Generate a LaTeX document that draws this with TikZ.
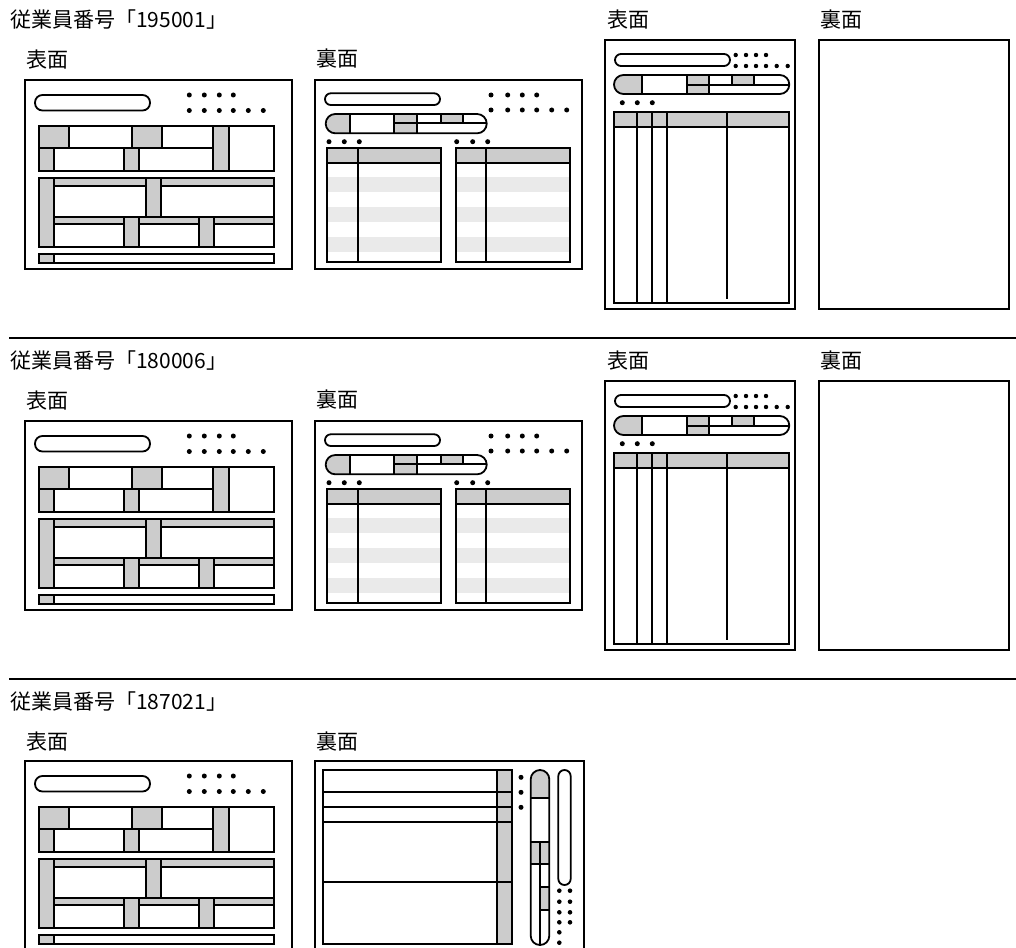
\documentclass[tikz,border=0pt]{standalone}
\usepackage{fontspec}
\setmainfont{Noto Sans CJK JP}
\usepackage{tikz}
\definecolor{mygrey}{RGB}{204,204,204}
\definecolor{mylightgrey}{RGB}{234,234,234}
\tikzset{
  frontform/.pic={
    \draw[outer] (0,0) rectangle (267,189);
    \draw[ink, rounded corners=7.5pt] (10,15) rectangle (125,30.5);
    \foreach \x in {164.3,179.3,194.3,208.3} \fill (\x,15) circle (2.5pt);
    \foreach \x in {164.3,179.3,194.3,208.3,223.3,238.3} \fill (\x,30.5) circle (2.5pt);
    \fill[cell] (14,45.7) rectangle (44.3,68.3) (106.7,45.7) rectangle (137.3,68.3)
      (188.3,45.7) rectangle (204,91) (14,68.3) rectangle (29.3,91) (99.3,68.3) rectangle (114.3,91);
    \draw[ink] (14,45.7) rectangle (249.3,91) (14,68.3) -- (188.3,68.3)
      (44.3,45.7) -- (44.3,68.3) (106.7,45.7) -- (106.7,68.3) (137.3,45.7) -- (137.3,68.3)
      (29.3,68.3) -- (29.3,91) (99.3,68.3) -- (99.3,91) (114.3,68.3) -- (114.3,91)
      (188.3,45.7) -- (188.3,91) (204,45.7) -- (204,91);
    \fill[cell] (14,97.7) rectangle (29.3,167.3) (29.3,97.7) rectangle (249.3,106)
      (120.7,106) rectangle (135.7,136.7) (29.3,136.7) rectangle (249.3,144.3)
      (99.3,144.3) rectangle (114.3,167.3) (174,144.3) rectangle (189,167.3);
    \draw[ink] (14,97.7) rectangle (249.3,167.3) (29.3,97.7) -- (29.3,167.3)
      (29.3,106) -- (120.7,106) (135.7,106) -- (249.3,106)
      (120.7,97.7) -- (120.7,136.7) (135.7,97.7) -- (135.7,136.7)
      (29.3,136.7) -- (249.3,136.7)
      (29.3,144.3) -- (99.3,144.3) (114.3,144.3) -- (174,144.3) (189,144.3) -- (249.3,144.3)
      (99.3,136.7) -- (99.3,167.3) (114.3,136.7) -- (114.3,167.3)
      (174,136.7) -- (174,167.3) (189,136.7) -- (189,167.3);
    \fill[cell] (14,174.3) rectangle (29.3,182.7);
    \draw[ink] (14,174.3) rectangle (249.3,182.7) (29.3,174.3) -- (29.3,182.7);
  },
  backform/.pic={
    \draw[outer] (0,0) rectangle (267,189);
    \draw[ink, rounded corners=5.8pt] (10,13.3) rectangle (125,25);
    \foreach \x in {176,192.7,207.3,221.7} \fill (\x,15) circle (2.5pt);
    \foreach \x in {176,192.7,207.3,221.7,236.7,251.7} \fill (\x,30) circle (2.5pt);
    \begin{scope}
      \clip[rounded corners=9.6pt] (10.7,34) rectangle (171.7,53.3);
      \fill[cell] (10.7,34) rectangle (35,53.3) (79.3,34) rectangle (102.3,53.3)
        (126,34) rectangle (148.3,43.3);
    \end{scope}
    \draw[ink] (35,34) -- (35,53.3) (79.3,34) -- (79.3,53.3) (102.3,34) -- (102.3,53.3)
      (126,34) -- (126,43.3) (148.3,34) -- (148.3,43.3) (79.3,43.3) -- (171.7,43.3);
    \draw[ink, rounded corners=9.6pt] (10.7,34) rectangle (171.7,53.3);
    \foreach \x in {14,29.3,44.3,141.7,157.7,172.7} \fill (\x,61.7) circle (2.5pt);
    \foreach \l/\m/\r in {12.3/42.7/125.7, 140.7/171/255}
    {%
      \foreach \s in {97.3,126.7,156.7} \fill[stripe] (\l,\s) rectangle (\r,\s+15);
      \fill[cell] (\l,68.3) rectangle (\r,83.3);
      \draw[ink] (\l,68.3) rectangle (\r,182.3) (\l,83.3) -- (\r,83.3) (\m,68.3) -- (\m,182.3);
    };
  },
  portraitform/.pic={
    \draw[outer] (0,0) rectangle (190,269.3);
    \draw[ink, rounded corners=6pt] (10,14) rectangle (125,26);
    \foreach \x in {130.7,141,151,161} \fill (\x,15) circle (2.2pt);
    \foreach \x in {130.7,141,151,161,171.7,182.7} \fill (\x,26) circle (2.2pt);
    \begin{scope}
      \clip[rounded corners=9.5pt] (9,35) rectangle (184.3,54);
      \fill[cell] (9,35) rectangle (37.3,54) (82.3,35) rectangle (104.3,54)
        (127.3,35) rectangle (149.3,45);
    \end{scope}
    \draw[ink] (37.3,35) -- (37.3,54) (82.3,35) -- (82.3,54) (104.3,35) -- (104.3,54)
      (127.3,35) -- (127.3,45) (149.3,35) -- (149.3,45) (82.3,45) -- (184.3,45);
    \draw[ink, rounded corners=9.5pt] (9,35) rectangle (184.3,54);
    \foreach \x in {17.3,32.3,47.3} \fill (\x,62.7) circle (2.5pt);
    \fill[cell] (9,71.7) rectangle (184.3,87.3);
    \draw[ink] (9,71.7) rectangle (184.3,262.7) (9,87.3) -- (184.3,87.3)
      (122.3,71.7) -- (122.3,259.3);
    \foreach \x in {31.7,47.3,62.3} \draw[ink] (\x,71.7) -- (\x,262.7);
  },
  sideform/.pic={
    \draw[outer] (0,0) rectangle (269,210);
    \fill[cell] (182.3,9) rectangle (197.3,183);
    \draw[ink] (8.3,9) rectangle (197.3,183) (182.3,9) -- (182.3,183);
    \foreach \y in {31.3,46.3,61.3,121.3} \draw[ink] (8.3,\y) -- (197.3,\y);
    \foreach \y in {16.3,31.3,46.3} \fill (206,\y) circle (2.5pt);
    \begin{scope}
      \clip[rounded corners=9.3pt] (215.7,9) rectangle (234.3,184);
      \fill[cell] (215.7,9) rectangle (234.3,36.7) (215.7,80.7) rectangle (234.3,103)
        (225,126.3) rectangle (234.3,149);
    \end{scope}
    \draw[ink] (215.7,36.7) -- (234.3,36.7) (215.7,80.7) -- (234.3,80.7)
      (215.7,103) -- (234.3,103) (225,80.7) -- (225,184)
      (225,126.3) -- (234.3,126.3) (225,149) -- (234.3,149);
    \draw[ink, rounded corners=9.3pt] (215.7,9) rectangle (234.3,184);
    \draw[ink, rounded corners=6.2pt] (243.3,9) rectangle (255.7,124);
    \foreach \y in {129.7,140.7,151.3,161.3} \fill (244.3,\y) circle (2.3pt) (255,\y) circle (2.3pt);
    \foreach \y in {171.3,181.7} \fill (244.3,\y) circle (2.3pt);
  }
}

\begin{document}
\begin{tikzpicture}[x=1pt, y=-1pt, ink/.style={line width=1.8pt}, outer/.style={line width=2pt}, cell/.style={fill=mygrey}, stripe/.style={fill=mylightgrey}, lab/.style={anchor=west, inner sep=0pt, font=\fontsize{21}{25}\selectfont}]
  \useasboundingbox (0,0) rectangle (1016,947);
  \clip (0,0) rectangle (1016,947);
  \foreach \dy/\num [count=\r] in {0/195001, 341/180006}
  {%
    \node[lab] (title\r) at (10, 20+\dy) {従業員番号「\num」};
    \node[lab] (front\r) at (26, 60+\dy) {表面};
    \node[lab] (back\r) at (316, 59+\dy) {裏面};
    \node[lab] (pfront\r) at (607, 20+\dy) {表面};
    \node[lab] (pback\r) at (820, 20+\dy) {裏面};
    \pic (ff\r) at (25, 80+\dy) {frontform};
    \pic (bf\r) at (315, 80+\dy) {backform};
    \pic (pf\r) at (605, 40+\dy) {portraitform};
    \draw[outer] (819, 40+\dy) rectangle +(190, 269.3);
  };
  \draw[line width=2pt] (9,338) -- (1016,338) (9,679) -- (1016,679);
  \node[lab] (title3) at (10, 702) {従業員番号「187021」};
  \node[lab] (front3) at (26, 742) {表面};
  \node[lab] (back3) at (316, 741) {裏面};
  \pic (ff3) at (25, 761) {frontform};
  \pic (sf3) at (315, 761) {sideform};
\end{tikzpicture}
\end{document}
